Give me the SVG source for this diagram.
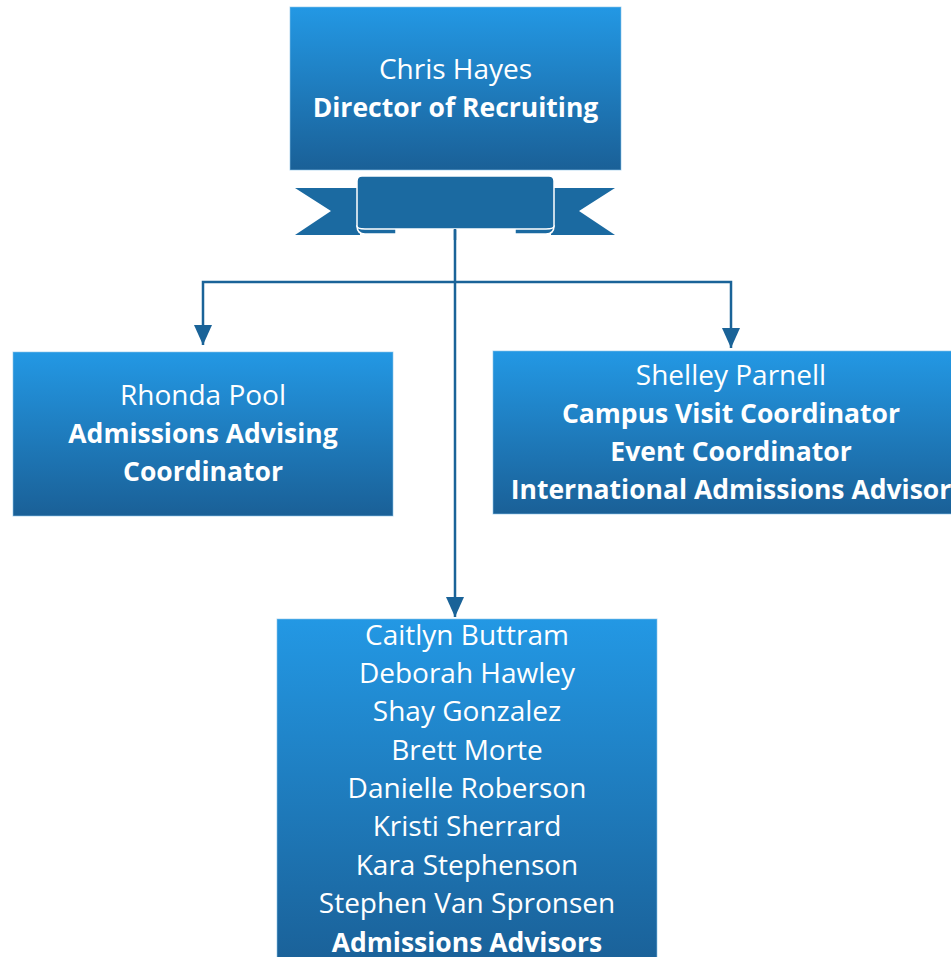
<svg xmlns="http://www.w3.org/2000/svg" width="951" height="957" viewBox="0 0 951 957">
<defs>
<linearGradient id="g" x1="0" y1="0" x2="0" y2="1">
<stop offset="0" stop-color="#2398E4"/>
<stop offset="1" stop-color="#1A6097"/>
</linearGradient>
<marker id="arr" markerWidth="20" markerHeight="18" refX="20" refY="9" orient="auto" markerUnits="userSpaceOnUse" viewBox="0 0 20 18">
<path d="M0,0 L20,9 L0,18 Z" fill="#1A6398"/>
</marker>
<style>
.box{fill:url(#g);stroke:#8CC4EA;stroke-width:1;stroke-opacity:0.6}
.t{font-family:"Open Sans","Liberation Sans",sans-serif;font-size:28px;fill:#FFFFFF;text-anchor:middle}
.b{font-weight:bold;font-size:26.5px}
.c{fill:none;stroke:#1A6398;stroke-width:2.5}
.rb{fill:#1B6AA1}
.rbw{fill:#1B6AA1;stroke:#FFFFFF;stroke-width:1.5}
</style>
</defs>
<rect width="951" height="957" fill="#FFFFFF"/>
<g id="connectors">
<path class="c" d="M455,222 V617" marker-end="url(#arr)"/>
<path class="c" d="M455,282 H203 V345" marker-end="url(#arr)"/>
<path class="c" d="M455,282 H731 V348" marker-end="url(#arr)"/>
</g>
<g id="director">
<rect class="box" x="290" y="7" width="331" height="163"/>
<g id="ribbon">
<polygon class="rb" points="295,188 360,188 360,235 295,235 331,211"/>
<polygon class="rb" points="615,188 551,188 551,235 615,235 579,211"/>
<path class="rbw" d="M357,226 Q357,234 365,234 L396,234 L396,227 Z"/>
<path class="rbw" d="M554,226 Q554,234 546,234 L515,234 L515,227 Z"/>
<path class="rbw" d="M357,226 V181 Q357,176 362,176 H549 Q554,176 554,181 V226 Q554,229 546,229 H365 Q357,229 357,226 Z"/>
<line x1="455" y1="229" x2="455" y2="240" stroke="#1A6398" stroke-width="2.5"/>
</g>
<text class="t" x="455.5" y="79">Chris Hayes</text>
<text class="t b" x="455.5" y="117">Director of Recruiting</text>
</g>
<g id="rhonda">
<rect class="box" x="13" y="352" width="380" height="164"/>
<text class="t" x="203" y="405">Rhonda Pool</text>
<text class="t b" x="203" y="443">Admissions Advising</text>
<text class="t b" x="203" y="481">Coordinator</text>
</g>
<g id="shelley">
<rect class="box" x="493" y="351" width="476" height="163"/>
<text class="t" x="731" y="385">Shelley Parnell</text>
<text class="t b" x="731" y="423">Campus Visit Coordinator</text>
<text class="t b" x="731" y="461">Event Coordinator</text>
<text class="t b" x="731" y="499">International Admissions Advisor</text>
</g>
<g id="advisors">
<rect class="box" x="277" y="619" width="380" height="350"/>
<text class="t" x="467" y="645">Caitlyn Buttram</text>
<text class="t" x="467" y="683">Deborah Hawley</text>
<text class="t" x="467" y="721">Shay Gonzalez</text>
<text class="t" x="467" y="760">Brett Morte</text>
<text class="t" x="467" y="798">Danielle Roberson</text>
<text class="t" x="467" y="836">Kristi Sherrard</text>
<text class="t" x="467" y="875">Kara Stephenson</text>
<text class="t" x="467" y="913">Stephen Van Spronsen</text>
<text class="t b" x="467" y="952">Admissions Advisors</text>
</g>
</svg>
